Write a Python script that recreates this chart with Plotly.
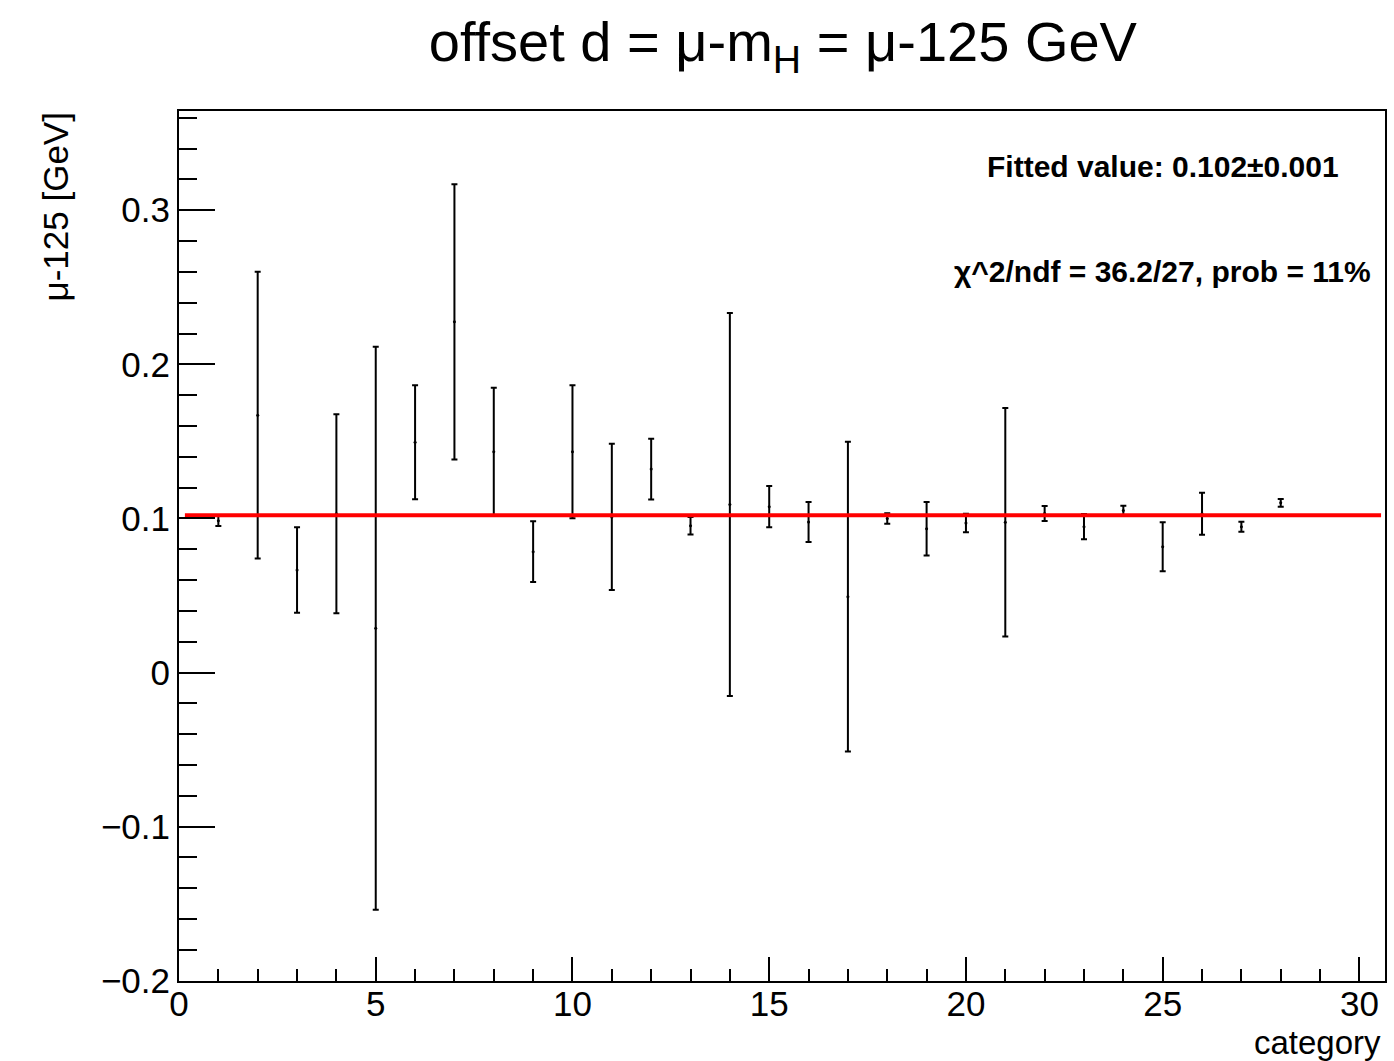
import plotly.graph_objects as go

categories = list(range(1, 29))
offsets = [0.0985, 0.167, 0.0665, 0.103, 0.0287, 0.1494, 0.2276, 0.1433, 0.0784, 0.1433,
           0.101, 0.132, 0.0953, 0.109, 0.1076, 0.0977, 0.0492, 0.100, 0.0933, 0.097,
           0.0975, 0.1032, 0.0946, 0.1052, 0.0816, 0.103, 0.0946, 0.1101]
errors = [0.0035, 0.093, 0.0277, 0.0646, 0.1827, 0.037, 0.0893, 0.0415, 0.0197, 0.0432,
          0.0474, 0.0197, 0.0057, 0.1243, 0.0134, 0.013, 0.1005, 0.0034, 0.0174, 0.006,
          0.0741, 0.0049, 0.0082, 0.003, 0.0159, 0.0136, 0.0033, 0.0025]
fit_value = 0.102
fit_x = [0.15, 30.55]
y_tickvals = [-0.2, -0.1, 0, 0.1, 0.2, 0.3]
y_ticktext = ["\u22120.2", "\u22120.1", "0", "0.1", "0.2", "0.3"]

FONT = "Liberation Sans, Arial, Helvetica, sans-serif"

fig = go.Figure()
fig.add_trace(go.Scatter(
    x=categories, y=offsets, mode="markers",
    marker=dict(color="black", size=3),
    error_y=dict(type="data", array=errors, visible=True, color="black",
                 thickness=2, width=3),
    showlegend=False, hoverinfo="x+y"))
fig.add_trace(go.Scatter(
    x=fit_x, y=[fit_value, fit_value], mode="lines",
    line=dict(color="#ff0000", width=4), showlegend=False))

fig.update_layout(
    width=1394, height=1061,
    margin=dict(l=179, r=7, t=111, b=80),
    paper_bgcolor="white", plot_bgcolor="white",
    font=dict(family=FONT, color="black", size=35),
    title=dict(text="offset d = μ-m<sub>H</sub> = μ-125 GeV",
               x=0.5616, xanchor="center", y=0.961, yanchor="middle",
               font=dict(size=56, family=FONT)),
    xaxis=dict(range=[0, 30.65], showgrid=False, zeroline=False,
               showline=True, linecolor="black", linewidth=2, mirror=True,
               ticks="inside", ticklen=24, tickwidth=2, tickcolor="black",
               tick0=0, dtick=5, ticklabelstandoff=-9,
               minor=dict(ticks="inside", ticklen=12, tickwidth=2, tickcolor="black", dtick=1),
               tickfont=dict(size=35, family=FONT)),
    yaxis=dict(range=[-0.2002, 0.3644], showgrid=False, zeroline=False,
               showline=True, linecolor="black", linewidth=2, mirror=True,
               ticks="inside", ticklen=36, tickwidth=2, tickcolor="black",
               tickmode="array", tickvals=y_tickvals, ticktext=y_ticktext,
               minor=dict(ticks="inside", ticklen=18, tickwidth=2, tickcolor="black",
                          tickmode="linear", tick0=0, dtick=0.02),
               tickfont=dict(size=35, family=FONT)),
    annotations=[
        dict(text="category", xref="paper", yref="paper", x=1.0, y=0, xanchor="right",
             yanchor="top", yshift=-41, xshift=-2, showarrow=False,
             font=dict(size=33, family=FONT)),
        dict(text="μ-125 [GeV]", xref="paper", yref="paper", x=0, y=1, xanchor="center",
             yanchor="top", xshift=-124, textangle=-90, showarrow=False,
             font=dict(size=35, family=FONT)),
        dict(text="<b>Fitted value: 0.102±0.001</b>", xref="paper", yref="paper",
             x=0.9636, y=0.9365, xanchor="right", yanchor="middle", showarrow=False,
             font=dict(size=30, family=FONT)),
        dict(text="<b>χ^2/ndf = 36.2/27, prob = 11%</b>", xref="paper", yref="paper",
             x=0.9901, y=0.8158, xanchor="right", yanchor="middle", showarrow=False,
             font=dict(size=30, family=FONT)),
    ],
)

fig.write_html("out.html")
